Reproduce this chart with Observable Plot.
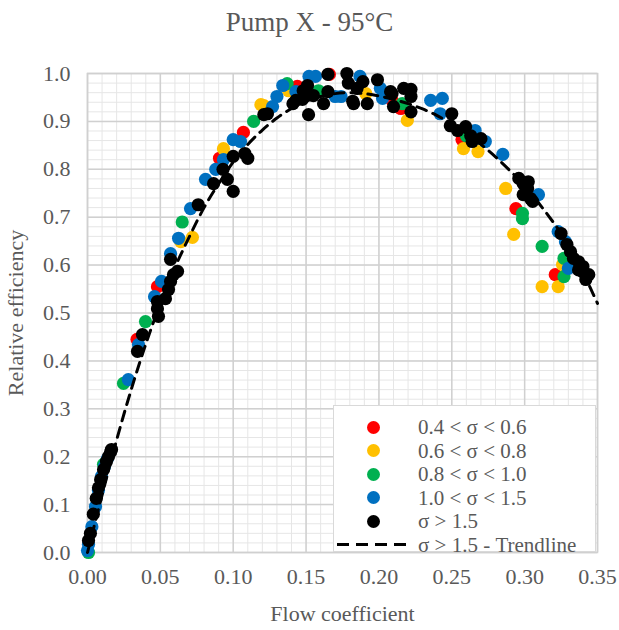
<!DOCTYPE html>
<html>
<head>
<meta charset="utf-8">
<script src="https://cdn.jsdelivr.net/npm/d3@7"></script>
<script src="https://cdn.jsdelivr.net/npm/@observablehq/plot@0.6"></script>
<style>
  html, body { margin: 0; padding: 0; background: #fff; }
  #wrap { position: relative; width: 619px; height: 630px; font-family: "Liberation Serif", "Times New Roman", serif; color: #595959; }
  #title { height: 45px; line-height: 45px; text-align: center; font-size: 27px; color: #595959; }
  #legend { position: absolute; left: 333px; top: 405px; width: 263px; height: 147px; background: #fff; border: 1px solid #d9d9d9; box-sizing: border-box; }
  .row { position: absolute; left: 0; height: 22px; width: 100%; }
  .dot { position: absolute; left: 33px; top: 4.5px; width: 13px; height: 13px; border-radius: 50%; }
  .lab { position: absolute; left: 84px; top: 0; font-size: 21px; line-height: 22px; height: 22px; color: #595959; white-space: nowrap; }
  .dash { position: absolute; left: 3px; top: 9.5px; width: 76px; height: 3px;
          background: repeating-linear-gradient(to right, #000 0, #000 12px, transparent 12px, transparent 19px); }
</style>
</head>
<body>
<div id="wrap">
  <div id="title">Pump X - 95°C</div>
  <div id="chart"></div>
  <div id="legend"></div>
</div>
<script>
// ---- Data ----
const xTicks = [0, 0.05, 0.10, 0.15, 0.20, 0.25, 0.30, 0.35];
const yTicks = [0, 0.1, 0.2, 0.3, 0.4, 0.5, 0.6, 0.7, 0.8, 0.9, 1.0];

const seriesNames = ["0.4 < σ < 0.6", "0.6 < σ < 0.8", "0.8 < σ < 1.0", "1.0 < σ < 1.5", "σ > 1.5"];
const seriesColors = ["#ff0000", "#ffc000", "#00b050", "#0070c0", "#000000"];
const trendName = "σ > 1.5 - Trendline";

const redX = [0.034, 0.048, 0.0906, 0.107, 0.144, 0.166, 0.209, 0.215, 0.257, 0.294, 0.321];
const redY = [0.445, 0.555, 0.823, 0.877, 0.973, 0.998, 0.944, 0.927, 0.862, 0.718, 0.580];

const yellowX = [0.064, 0.072, 0.0933, 0.119, 0.121, 0.138, 0.191, 0.2195, 0.258, 0.268, 0.287, 0.2925, 0.312, 0.323, 0.326];
const yellowY = [0.649, 0.658, 0.843, 0.935, 0.933, 0.964, 0.958, 0.902, 0.843, 0.837, 0.760, 0.664, 0.555, 0.555, 0.601];

const greenX = [0.0007, 0.011, 0.0247, 0.0398, 0.065, 0.114, 0.137, 0.1585, 0.216, 0.260, 0.2985, 0.2985, 0.312, 0.327, 0.327];
const greenY = [0.000, 0.184, 0.353, 0.482, 0.690, 0.900, 0.979, 0.964, 0.937, 0.870, 0.708, 0.697, 0.639, 0.614, 0.576];

const blueX = [0.000, 0.0007, 0.003, 0.0055, 0.0075, 0.0096, 0.0117, 0.0137, 0.028, 0.035, 0.046, 0.0508, 0.057, 0.0625, 0.0707,
  0.081, 0.088, 0.0933, 0.100, 0.105, 0.127, 0.130, 0.134, 0.143, 0.152, 0.1565, 0.170, 0.174, 0.187, 0.201, 0.2025,
  0.2355, 0.2435, 0.242, 0.266, 0.273, 0.285, 0.3095, 0.323, 0.328, 0.330];
const blueY = [0.004, 0.017, 0.054, 0.096, 0.130, 0.159, 0.180, 0.196, 0.361, 0.434, 0.534, 0.566, 0.624, 0.656, 0.718,
  0.779, 0.800, 0.820, 0.862, 0.858, 0.931, 0.952, 0.975, 0.962, 0.994, 0.994, 0.952, 0.952, 0.994, 0.969, 0.948,
  0.944, 0.948, 0.916, 0.881, 0.858, 0.831, 0.747, 0.670, 0.649, 0.593];

const blackX = [0.0007, 0.002, 0.004, 0.006, 0.0075, 0.009, 0.011, 0.013, 0.0144, 0.0158, 0.0165,
  0.0343, 0.0377, 0.0487, 0.048, 0.048, 0.0535, 0.0556, 0.057, 0.059, 0.0618, 0.057,
  0.076, 0.0865, 0.093, 0.096, 0.100, 0.100, 0.108, 0.110, 0.121, 0.1235,
  0.141, 0.143, 0.1475, 0.148, 0.151, 0.155, 0.1517, 0.162, 0.165, 0.165, 0.178, 0.179, 0.1826, 0.185, 0.189, 0.182,
  0.192, 0.199, 0.208, 0.209, 0.210, 0.217, 0.222, 0.222, 0.222,
  0.250, 0.249, 0.254, 0.2595, 0.263, 0.264, 0.270,
  0.296, 0.299, 0.302, 0.304, 0.299, 0.3025, 0.3055,
  0.325, 0.329, 0.3315, 0.3335, 0.337, 0.340, 0.3395, 0.342, 0.337, 0.344];
const blackY = [0.025, 0.040, 0.080, 0.113, 0.135, 0.152, 0.173, 0.190, 0.200, 0.210, 0.215,
  0.420, 0.455, 0.493, 0.509, 0.524, 0.530, 0.549, 0.566, 0.580, 0.587, 0.612,
  0.726, 0.770, 0.800, 0.779, 0.754, 0.827, 0.833, 0.823, 0.914, 0.916,
  0.937, 0.944, 0.946, 0.964, 0.975, 0.954, 0.914, 0.937, 0.998, 0.962, 1.000, 0.980, 0.937, 0.969, 0.983, 0.942,
  0.937, 0.987, 0.962, 0.958, 0.931, 0.969, 0.967, 0.952, 0.920,
  0.916, 0.891, 0.881, 0.889, 0.870, 0.858, 0.864,
  0.781, 0.770, 0.760, 0.739, 0.747, 0.774, 0.733,
  0.666, 0.643, 0.628, 0.614, 0.607, 0.597, 0.587, 0.570, 0.590, 0.580];

const trendX = [0, 0.01, 0.02, 0.03, 0.04, 0.05, 0.06, 0.07, 0.08, 0.09, 0.10, 0.11, 0.12, 0.13, 0.14, 0.15, 0.16, 0.17,
  0.18, 0.19, 0.20, 0.21, 0.22, 0.23, 0.24, 0.25, 0.26, 0.27, 0.28, 0.29, 0.30, 0.31, 0.32, 0.33, 0.34, 0.35];
const trendY = [0.000, 0.120, 0.235, 0.340, 0.435, 0.520, 0.595, 0.660, 0.720, 0.770, 0.815, 0.852, 0.882, 0.907, 0.927, 0.942, 0.952, 0.958,
  0.960, 0.958, 0.953, 0.946, 0.937, 0.926, 0.912, 0.895, 0.875, 0.852, 0.826, 0.797, 0.765, 0.728, 0.688, 0.643, 0.585, 0.520];

// ---- Build tables ----
const seriesXs = [redX, yellowX, greenX, blueX, blackX];
const seriesYs = [redY, yellowY, greenY, blueY, blackY];
const pts = [];
seriesXs.forEach((xs, s) => xs.forEach((x, i) => pts.push({x, y: seriesYs[s][i], s: seriesNames[s]})));
const trend = trendX.map((x, i) => ({x, y: trendY[i]}));

const xMinor = d3.range(0, 0.3501, 0.01);
const yMinor = d3.range(0, 1.0001, 0.02);

const chart = Plot.plot({
  width: 619,
  height: 585,
  marginLeft: 87,
  marginRight: 22,
  marginTop: 28,
  marginBottom: 78,
  style: {fontFamily: "Liberation Serif, Times New Roman, serif", fontSize: "22px", color: "#595959", background: "#fff"},
  x: {domain: [0, 0.35]},
  y: {domain: [0, 1.0]},
  color: {domain: seriesNames, range: seriesColors},
  marks: [
    Plot.gridX(xMinor, {stroke: "#e6e6e6", strokeOpacity: 1, strokeWidth: 1}),
    Plot.gridY(yMinor, {stroke: "#e6e6e6", strokeOpacity: 1, strokeWidth: 1}),
    Plot.gridX(xTicks, {stroke: "#d0d0d0", strokeOpacity: 1, strokeWidth: 1.5}),
    Plot.gridY(yTicks, {stroke: "#d0d0d0", strokeOpacity: 1, strokeWidth: 1.5}),
    Plot.frame({stroke: "#d0d0d0", strokeWidth: 1.5}),
    Plot.axisX(xTicks, {tickSize: 0, tickPadding: 16, tickFormat: d3.format(".2f"), label: "Flow coefficient", labelAnchor: "center", labelArrow: "none", labelOffset: 68, fill: "#595959"}),
    Plot.axisY(yTicks, {tickSize: 0, tickPadding: 17, tickFormat: d3.format(".1f"), label: "Relative efficiency", labelAnchor: "center", labelArrow: "none", labelOffset: 80, fill: "#595959"}),
    Plot.dot(pts, {x: "x", y: "y", fill: "s", r: 6.6, stroke: "none"}),
    Plot.line(trend, {x: "x", y: "y", stroke: "#000", strokeWidth: 3, strokeDasharray: "10,7", curve: "natural"})
  ]
});
document.getElementById("chart").appendChild(chart);

// ---- Legend (HTML overlay inside the plot area) ----
const legend = document.getElementById("legend");
const rowTops = [10, 33.5, 57, 80.5, 104, 127.5];
const esc = s => s.replace(/</g, "&lt;").replace(/>/g, "&gt;");
seriesNames.forEach((name, i) => {
  const row = document.createElement("div");
  row.className = "row";
  row.style.top = rowTops[i] + "px";
  row.innerHTML = `<span class="dot" style="background:${seriesColors[i]}"></span><span class="lab">${esc(name)}</span>`;
  legend.appendChild(row);
});
const trow = document.createElement("div");
trow.className = "row";
trow.style.top = rowTops[5] + "px";
trow.innerHTML = `<span class="dash"></span><span class="lab">${esc(trendName)}</span>`;
legend.appendChild(trow);
</script>
</body>
</html>
